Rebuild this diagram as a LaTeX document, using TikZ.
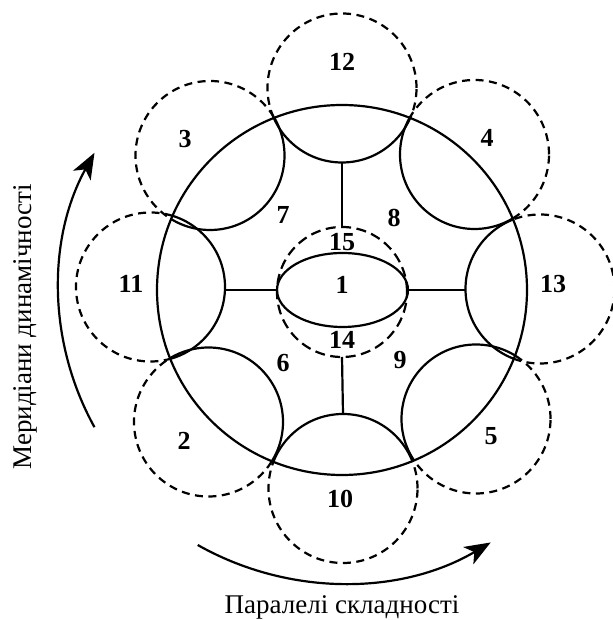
\documentclass[tikz,border=0pt]{standalone}
\usepackage{fontspec}
\setmainfont{Liberation Serif}
\usetikzlibrary{arrows.meta,shapes.geometric}
\begin{document}
\begin{tikzpicture}[x=1pt,y=1pt,
  line width=2.2pt,
  sat/.style={circle,minimum size=149pt,inner sep=0pt,outer sep=0pt},
  num/.style={font=\fontsize{26}{26}\selectfont\bfseries,inner sep=0pt},
  caption/.style={font=\fontsize{27}{27}\selectfont,inner sep=0pt},
  outerarc/.style={dash pattern=on 8pt off 5.5pt},
  coredash/.style={dash pattern=on 10pt off 5.5pt},
  flow/.style={-{Stealth[length=26pt,width=20pt,inset=7pt]}}
]
\useasboundingbox (0,0) rectangle (612,620);
\coordinate (M) at (342,330);

% satellite circles (placement only)
\node[sat] (c12) at (342,532) {};
\node[sat] (c3)  at (210,464.5) {};
\node[sat] (c4)  at (474.5,465.5) {};
\node[sat] (c11) at (150.5,333) {};
\node[sat] (c13) at (540,331) {};
\node[sat] (c2)  at (208.5,198) {};
\node[sat] (c5)  at (476,201) {};
\node[sat] (c10) at (343,131.5) {};

% outer (dashed) parts of the satellites
\foreach \s in {c12,c3,c4,c11,c13,c2,c5,c10}
  \draw[outerarc] (\s.center) circle[radius=74.5];

% clear the disc, then draw the inner (solid) parts
\fill[white] (M) circle[radius=185];
\begin{scope}
  \clip (M) circle[radius=185];
  \foreach \s in {c12,c3,c4,c11,c13,c2,c5,c10}
    \draw (\s.center) circle[radius=74.5];
\end{scope}

% main circle
\node[circle,draw,minimum size=370pt,inner sep=0pt,outer sep=0pt] (main) at (M) {};

% central core
\node[circle,draw,coredash,minimum size=130pt,inner sep=0pt,outer sep=0pt] (core) at (342,328) {};
\node[ellipse,draw,minimum width=131pt,minimum height=74pt,inner sep=0pt,outer sep=0pt] (ell) at (342.5,330) {};

% spokes
\draw (c12.south) -- (core.north);
\draw (core.south) -- (c10.north);
\draw (ell.west) -- (ell.west -| c11.east);
\draw (ell.east) -- (ell.east -| c13.west);

% numbers
\node[num] (l12) at (342,558) {12};
\node[num] (l3)  at (185,481) {3};
\node[num] (l4)  at (487,482) {4};
\node[num] (l11) at (131,336) {11};
\node[num] (l13) at (553,336) {13};
\node[num] (l2)  at (184,179) {2};
\node[num] (l5)  at (491,184) {5};
\node[num] (l10) at (340,121) {10};
\node[num] (l7)  at (283,405) {7};
\node[num] (l8)  at (394,402) {8};
\node[num] (l6)  at (283,257) {6};
\node[num] (l9)  at (400,260) {9};
\node[num] (l15) at (342,378) {15};
\node[num] (l1)  at (342,335) {1};
\node[num] (l14) at (342,280) {14};

% direction arrows
\draw[flow] (M) ++(209:283) arc[start angle=209,end angle=151,radius=283];
\draw[flow] (M) ++(240.5:293) arc[start angle=240.5,end angle=300.5,radius=293];

% axis captions
\node[caption,rotate=90,anchor=base] (meridians) at (31,293) {Меридіани динамічності};
\node[caption,anchor=base] (parallels) at (342,6.5) {Паралелі складності};
\end{tikzpicture}
\end{document}
